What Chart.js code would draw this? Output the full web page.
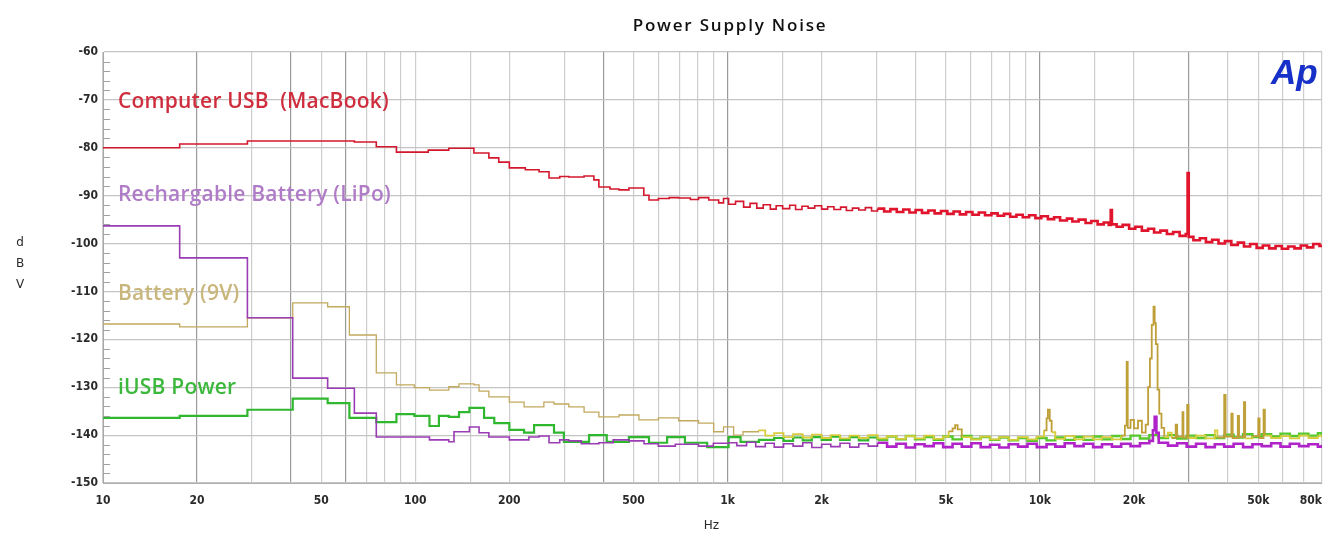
<!DOCTYPE html>
<html>
<head>
<meta charset="utf-8">
<title>Power Supply Noise</title>
<script src="https://cdn.jsdelivr.net/npm/chart.js@4.4.0/dist/chart.umd.min.js"></script>
<style>
  html, body { margin: 0; padding: 0; background: #fff; }
  #wrap { width: 1323px; height: 534px; position: relative; }
</style>
</head>
<body>
<div id="wrap"><canvas id="noiseChart"></canvas></div>
<script>
// --- data ---
const chartTitle = 'Power Supply Noise';
const seriesNames = ['Computer USB  (MacBook)', 'Rechargable Battery (LiPo)', 'Battery (9V)', 'iUSB Power'];
const yTicks = [-60, -70, -80, -90, -100, -110, -120, -130, -140, -150];
const xTickLabels = [10, 20, 50, 100, 200, 500, 1000, 2000, 5000, 10000, 20000, 50000, 80000];

const usbHz = [10, 17.6, 29, 63.8, 75, 87, 110, 128, 154, 172, 185, 200, 225, 249, 268, 290, 310, 347, 373, 387, 420, 449, 483, 539, 560, 600, 650, 697, 760, 807, 870, 936, 970, 1007, 1060, 1125,
  1180, 1240, 1300, 1370, 1430, 1500, 1580, 1650, 1730, 1810, 1900, 2000, 2090, 2190, 2300, 2400, 2510, 2630, 2760, 2890, 3020, 3170, 3320, 3480, 3650, 3820, 4000, 4190, 4390, 4600, 4820, 5050, 5290, 5540, 5800, 6080, 6370, 6670, 6990, 7320, 7670, 8030, 8410, 8810, 9230, 9670,
  10100, 10600, 11100, 11600, 12200, 12700, 13300, 14000, 14600, 15300, 16000, 16600, 16850, 17000, 17600, 18400, 19300, 20200, 21200, 22200, 23200, 24300, 25500, 26700, 28000, 29300, 29700, 29950,
  31000, 32500, 34000, 35600, 37300, 39100, 41000, 43000, 45000, 47100, 49400, 51700, 54200, 56800, 59500, 62300, 65300, 68400, 71600, 75000, 78500, 80000];
const usbDb = [-80.0, -79.2, -78.6, -78.8, -79.8, -80.9, -80.5, -80.1, -81.1, -82.1, -83.0, -84.2, -84.6, -85.0, -86.3, -86.0, -86.1, -85.9, -86.7, -88.2, -88.6, -88.8, -88.4, -89.9, -90.9, -90.6, -90.4, -90.5, -90.8, -90.4, -90.9, -91.5, -90.6, -91.8, -91.2, -92.4,
  -91.6, -92.6, -91.9, -92.8, -92.1, -92.7, -92.0, -92.9, -92.2, -92.6, -92.1, -92.8, -92.3, -92.9, -92.4, -93.1, -92.6, -93.0, -92.5, -93.2, -92.7, -93.3, -92.8, -93.4, -92.9, -93.5, -93.0, -93.6, -93.1, -93.7, -93.2, -93.8, -93.3, -93.9, -93.4, -94.0, -93.5, -94.1, -93.7, -94.2, -93.8, -94.4, -94.0, -94.5, -94.1, -94.7,
  -94.3, -94.9, -94.5, -95.2, -94.8, -95.4, -95.0, -95.7, -95.3, -96.0, -95.6, -96.1, -93.0, -96.0, -96.5, -96.1, -96.9, -96.5, -97.3, -96.9, -97.7, -97.3, -98.0, -97.6, -98.4, -98.0, -85.3, -98.6,
  -99.3, -98.9, -99.7, -99.2, -100.0, -99.5, -100.3, -99.8, -100.6, -100.1, -100.9, -100.4, -101.0, -100.5, -101.1, -100.6, -101.0, -100.4, -100.8, -100.1, -100.5, -100.2];

const lipoHz = [10, 17.6, 29, 40.5, 52.4, 63.8, 75, 111, 128, 133, 149, 160, 172, 200, 231, 249, 268, 290, 310, 340, 387, 430, 483, 540, 600, 680, 807, 900, 1007,
  1070, 1150, 1230, 1320, 1410, 1510, 1620, 1740, 1860, 2000, 2140, 2290, 2460, 2630, 2820, 3020, 3240, 3470, 3720, 3980, 4270, 4570, 4900, 5250, 5620, 6030, 6460, 6920, 7410, 7940, 8510, 9120, 9770,
  10500, 11200, 12000, 12900, 13800, 14800, 15800, 17000, 18200, 19500, 20900, 22400, 23000, 23300, 23600, 24000, 25700, 27500, 29500, 31600, 33900, 36300, 38900, 41700, 44700, 47900, 51300, 55000, 58900, 63100, 67600, 72400, 77600, 80000];
const lipoDb = [-96.3, -103.0, -115.5, -128.1, -130.2, -135.4, -140.4, -141.0, -141.4, -139.3, -138.3, -139.5, -140.4, -141.0, -140.4, -140.2, -141.6, -141.0, -141.2, -141.8, -141.6, -141.0, -141.2, -141.8, -142.3, -141.9, -142.3, -141.7, -141.6,
  -142.2, -141.5, -142.4, -141.7, -142.5, -141.8, -142.3, -141.6, -142.6, -141.9, -142.4, -141.7, -142.5, -141.8, -142.3, -141.6, -142.4, -141.8, -142.6, -141.9, -142.3, -141.7, -142.5, -141.8, -142.4, -141.7, -142.5, -142.0, -142.6, -141.9, -142.4, -141.8, -142.5,
  -141.9, -142.4, -141.7, -142.3, -141.8, -142.5, -141.9, -142.4, -141.8, -142.3, -141.7, -141.2, -139.0, -136.2, -139.5, -141.6, -142.2, -141.7, -142.4, -141.8, -142.5, -141.9, -142.4, -141.8, -142.5, -141.9, -142.3, -141.7, -142.4, -141.8, -142.3, -141.9, -142.4, -142.0];

const nineVoltHz = [10, 17.6, 29, 40.5, 52.4, 61.5, 75, 87, 99.3, 111, 128, 138, 154, 160, 172, 200, 223, 258, 278, 310, 347, 387, 449, 520, 600, 697, 807, 902, 970, 1045, 1120, 1256,
  1320, 1410, 1510, 1620, 1740, 1860, 2000, 2140, 2290, 2460, 2630, 2820, 3020, 3240, 3470, 3720, 3980, 4270, 4570, 4900, 5100, 5250, 5350, 5450, 5620, 6030, 6460, 6920, 7410, 7940, 8510, 9120, 9770,
  10300, 10500, 10600, 10750, 10900, 11200, 12000, 12900, 13800, 14800, 15800, 17000, 18200, 18700, 18950, 19100, 19500, 20000, 20600, 21200, 21800, 22200, 22500, 22800, 23100, 23300, 23500, 23800, 24100, 24500,
  25000, 25700, 26400, 27200, 27500, 28600, 28800, 29600, 29900, 31600, 33900, 36300, 37000, 38900, 39300, 41000, 41400, 43000, 43400, 45000, 45400, 47900, 50000, 50500, 52000, 52500, 55000, 58900, 63100, 67600, 72400, 77600, 80000];
const nineVoltDb = [-116.8, -117.4, -115.5, -112.4, -113.2, -119.1, -127.0, -129.5, -130.1, -130.6, -129.9, -129.3, -129.5, -130.8, -132.0, -133.1, -134.1, -133.1, -133.5, -134.1, -135.2, -136.2, -135.8, -136.8, -136.4, -137.0, -137.5, -139.3, -138.3, -140.0, -139.3, -139.0,
  -140.1, -139.6, -140.4, -139.8, -140.5, -139.9, -140.6, -140.0, -140.7, -140.1, -140.6, -140.0, -140.7, -140.2, -140.8, -140.2, -140.7, -140.1, -140.8, -140.3, -139.2, -138.6, -137.9, -138.8, -140.4, -140.9, -140.3, -140.9, -140.4, -141.0, -140.4, -140.9, -140.3,
  -139.0, -136.5, -134.7, -137.0, -139.4, -140.8, -140.2, -140.9, -140.3, -140.9, -140.4, -140.9, -140.1, -138.0, -124.7, -138.5, -136.8, -138.6, -137.0, -139.5, -137.8, -130.0, -124.0, -117.0, -113.2, -116.6, -121.0, -130.5, -135.5, -138.5,
  -140.4, -139.5, -140.6, -137.8, -140.3, -135.2, -140.5, -133.7, -140.6, -140.1, -140.7, -139.0, -140.5, -131.6, -140.3, -135.5, -140.6, -136.0, -140.4, -133.1, -140.7, -140.2, -136.5, -140.6, -134.7, -140.1, -140.6, -140.2, -140.7, -140.1, -140.6, -140.2, -140.5];

const iusbHz = [10, 17.6, 29, 40.5, 52.4, 61.5, 75, 87, 99.3, 111, 119, 128, 138, 149, 166, 179, 200, 223, 240, 258, 278, 299, 360, 410, 483, 560, 640, 730, 860, 1007, 1100, 1260,
  1410, 1510, 1620, 1740, 1860, 2000, 2140, 2290, 2460, 2630, 2820, 3020, 3240, 3470, 3720, 3980, 4270, 4570, 4900, 5250, 5620, 6030, 6460, 6920, 7410, 7940, 8510, 9120, 9770,
  10500, 11200, 12000, 12900, 13800, 14800, 15800, 17000, 18200, 19500, 20900, 22400, 24000, 25700, 27500, 29500, 31600, 33900, 36300, 38900, 41700, 44700, 47900, 51300, 55000, 58900, 63100, 67600, 72400, 77600, 80000];
const iusbDb = [-136.4, -136.0, -134.7, -132.4, -133.3, -136.4, -137.3, -135.6, -136.0, -138.1, -136.0, -136.2, -135.2, -134.3, -136.4, -137.5, -138.9, -139.5, -137.9, -137.9, -139.5, -141.4, -140.0, -141.4, -140.4, -141.6, -140.4, -141.6, -142.5, -140.4, -141.4, -141.0,
  -140.6, -141.2, -140.5, -141.1, -140.4, -141.0, -140.3, -141.0, -140.4, -141.1, -140.5, -141.0, -140.3, -140.9, -140.2, -140.9, -140.4, -141.0, -140.3, -140.9, -140.2, -140.8, -140.4, -141.0, -140.5, -141.1, -140.6, -141.2, -140.6,
  -141.1, -140.5, -141.0, -140.4, -141.0, -140.3, -140.9, -140.2, -140.8, -140.1, -140.7, -140.0, -140.6, -140.0, -140.7, -140.1, -140.6, -140.0, -140.6, -139.9, -140.5, -139.8, -140.4, -139.8, -140.3, -139.7, -140.2, -139.7, -140.1, -139.6, -140.0];

// --- styling ---
const lineColors = ['#d3172d', '#9a3cb4', '#c2a95e', '#2fb82f'];
const floorColors = ['#e0142c', '#b023c8', '#d6cc3c', '#56c82c'];
const floorWidths = [2.6, 2.6, 1.8, 2.4];
const floorStartHz = [3000, 3000, 1200, 3000];
const textColors = ['#cf2e3e', '#b07cc8', '#c9b67c', '#3cb83c'];
const lineWidths = [1.6, 1.6, 1.3, 2.2];
const labelDb = [-70.8, -90.2, -110.8, -130.4];

function toPoints(hz, db) {
  return hz.map((f, i) => ({ x: f, y: db[i] }));
}

function fmtHz(v) {
  return v >= 1000 ? (v / 1000) + 'k' : String(v);
}

const decor = {
  id: 'decor',
  afterDatasetsDraw(chart) {
    const { ctx, chartArea: a, scales: { x, y } } = chart;
    ctx.save();

    // minor y ticks along the left edge
    ctx.strokeStyle = '#a0a0a0';
    ctx.lineWidth = 1;
    for (let v = -148; v < -60; v += 2) {
      if (v % 10 === 0) continue;
      const py = Math.round(y.getPixelForValue(v)) + 0.5;
      ctx.beginPath();
      ctx.moveTo(a.left, py);
      ctx.lineTo(a.left + 7, py);
      ctx.stroke();
    }

    // series names inside the plot
    ctx.font = '600 21px "Open Sans"';
    ctx.letterSpacing = '0.2px';
    ctx.textBaseline = 'alphabetic';
    ctx.textAlign = 'left';
    seriesNames.forEach((name, i) => {
      ctx.fillStyle = textColors[i];
      ctx.fillText(name, a.left + 15, y.getPixelForValue(labelDb[i]) + 4.5);
    });
    ctx.letterSpacing = '0px';

    // x tick labels
    ctx.font = 'bold 12px "DejaVu Sans Condensed", "DejaVu Sans"';
    ctx.fillStyle = '#2a2a2a';
    ctx.textAlign = 'center';
    ctx.textBaseline = 'middle';
    xTickLabels.forEach(v => {
      const s = fmtHz(v);
      const w = ctx.measureText(s).width;
      let px = x.getPixelForValue(v);
      if (px + w / 2 > chart.width - 1) px = chart.width - 1 - w / 2;
      ctx.fillText(s, px, a.bottom + 18);
    });
    ctx.font = '12px "DejaVu Sans"';
    ctx.fillText('Hz', (a.left + a.right) / 2 - 1, a.bottom + 43);

    // y axis title, stacked letters
    ['d', 'B', 'V'].forEach((c, i) => ctx.fillText(c, 20, 243 + i * 21));

    // title
    ctx.font = '600 17px "Open Sans"';
    ctx.letterSpacing = '1.8px';
    ctx.fillStyle = '#111';
    ctx.fillText(chartTitle, 730, 26);
    ctx.letterSpacing = '0px';

    // Ap mark
    ctx.font = 'italic bold 35px "Liberation Sans"';
    ctx.fillStyle = '#1630c8';
    ctx.textAlign = 'left';
    ctx.textBaseline = 'alphabetic';
    ctx.fillText('Ap', 1271, 84);

    ctx.restore();
  }
};

new Chart(document.getElementById('noiseChart'), {
  type: 'line',
  data: {
    datasets: [
      { label: seriesNames[0], data: toPoints(usbHz, usbDb) },
      { label: seriesNames[1], data: toPoints(lipoHz, lipoDb) },
      { label: seriesNames[2], data: toPoints(nineVoltHz, nineVoltDb) },
      { label: seriesNames[3], data: toPoints(iusbHz, iusbDb) }
    ].map((d, i) => Object.assign(d, {
      borderColor: lineColors[i],
      borderWidth: lineWidths[i],
      pointRadius: 0,
      stepped: true,
      fill: false,
      segment: {
        borderColor: c => {
          if (c.p0.parsed.x < floorStartHz[i]) return undefined;
          if (i === 2 && Math.max(c.p0.parsed.y, c.p1.parsed.y) > -139) return '#bf9f38';
          return floorColors[i];
        },
        borderWidth: c => (c.p0.parsed.x < floorStartHz[i] ? undefined : floorWidths[i])
      }
    }))
  },
  options: {
    responsive: true,
    maintainAspectRatio: false,
    animation: false,
    events: [],
    layout: { padding: { top: 52, right: 1, left: 0, bottom: 0 } },
    plugins: {
      legend: { display: false },
      tooltip: { enabled: false }
    },
    scales: {
      x: {
        type: 'logarithmic',
        min: 10,
        max: 80000,
        ticks: { display: false, autoSkip: false },
        grid: {
          color: ctx => {
            const v = ctx.tick && ctx.tick.value;
            return [20, 40, 60, 400, 1000, 10000, 30000].includes(v) ? '#9a9a9a' : '#cdcdcd';
          },
          lineWidth: 1.2,
          drawTicks: false
        },
        border: { color: '#b0b0b0' },
        afterFit: s => { s.height = 51; s.paddingLeft = 0; s.paddingRight = 0; }
      },
      y: {
        min: -150,
        max: -60,
        afterBuildTicks: s => { s.ticks = yTicks.map(v => ({ value: v })); },
        ticks: {
          color: '#2a2a2a',
          padding: 5,
          font: { family: '"DejaVu Sans Condensed", "DejaVu Sans"', size: 12, weight: 'bold' }
        },
        grid: { color: '#c4c4c4', lineWidth: 1.2, drawTicks: false },
        border: { color: '#a8a8a8' },
        afterFit: s => { s.width = 103; }
      }
    }
  },
  plugins: [decor]
});
</script>
</body>
</html>
